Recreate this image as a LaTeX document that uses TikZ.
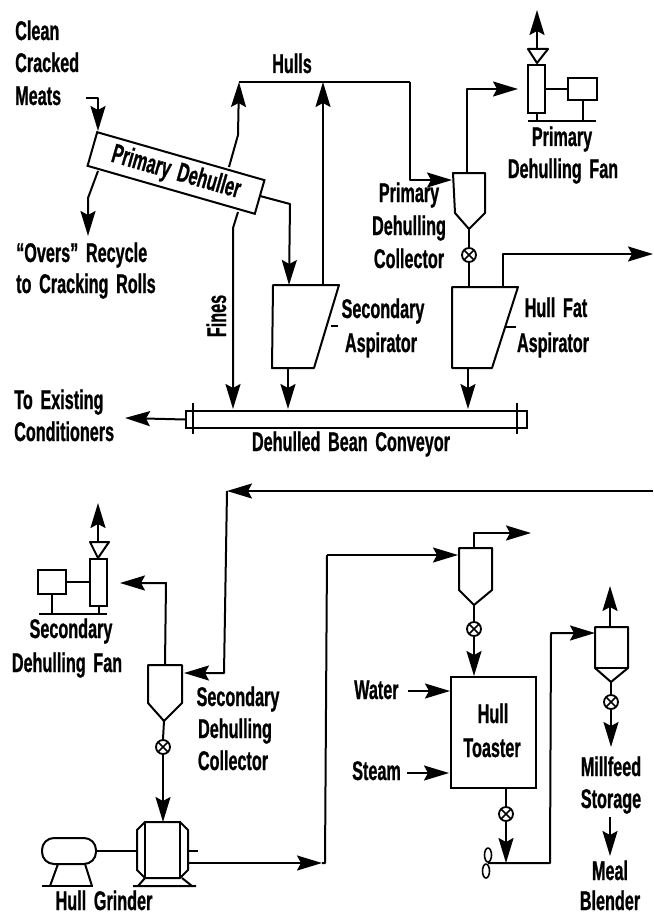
\documentclass[tikz,border=0pt]{standalone}
\usepackage{fontspec}
\setmainfont{Liberation Sans}[FakeStretch=0.6,WordSpace=1.7,BoldFeatures={FakeBold=0.8}]
\usetikzlibrary{arrows.meta,shapes.geometric}
\tikzset{
  lbl/.style={inner sep=0pt,anchor=base,font=\fontsize{27}{27}\selectfont\bfseries},
  lbll/.style={lbl,anchor=base west},
  eq/.style={draw=black,line width=2pt,line join=round},
  pipe/.style={draw=black,line width=2pt,line join=round},
  flow/.style={pipe,-{Stealth[length=25pt,width=15pt,inset=4pt]}},
  valve/.style={circle,draw=black,line width=1.8pt,minimum size=14pt,inner sep=0pt,
    path picture={\draw[line width=1.5pt] (path picture bounding box.north west)--(path picture bounding box.south east)
      (path picture bounding box.north east)--(path picture bounding box.south west);}},
  boxn/.style={draw=black,line width=2pt,inner sep=0pt,rectangle}
}
\begin{document}
\begin{tikzpicture}[x=1pt,y=-1pt]
\useasboundingbox (0,0) rectangle (653,915);
% ---- labels
\node[lbll] (t1) at (15,40) {Clean};
\node[lbll] (t2) at (15,72) {Cracked};
\node[lbll] (t3) at (15,105) {Meats};
\node[lbl] (hulls) at (292,73) {Hulls};
\node[lbll] (o1) at (16,262) {``Overs'' Recycle};
\node[lbll] (o2) at (16,293) {to Cracking Rolls};
\node[lbl,rotate=90] (fines) at (226,316) {Fines};
\node[lbll] (te1) at (14,409) {To Existing};
\node[lbll] (te2) at (14,441) {Conditioners};
\node[lbl] (dbc) at (351,451) {Dehulled Bean Conveyor};
\node[lbl] (sa1) at (383,318) {Secondary};
\node[lbl] (sa2) at (381,352) {Aspirator};
\node[lbl] (hf1) at (556,317) {Hull Fat};
\node[lbl] (hf2) at (553,352) {Aspirator};
\node[lbl] (pc1) at (409,202) {Primary};
\node[lbl] (pc2) at (409,235) {Dehulling};
\node[lbl] (pc3) at (409,268) {Collector};
\node[lbl] (pf1) at (562,146) {Primary};
\node[lbl] (pf2) at (563,178) {Dehulling Fan};
\node[lbl] (sf1) at (71,638) {Secondary};
\node[lbl] (sf2) at (67,672) {Dehulling Fan};
\node[lbl] (sc1) at (238,706) {Secondary};
\node[lbl] (sc2) at (235,738) {Dehulling};
\node[lbl] (sc3) at (233,770) {Collector};
\node[lbl] (hg) at (104,910) {Hull Grinder};
\node[lbl] (ht1) at (493,723) {Hull};
\node[lbl] (ht2) at (492,757) {Toaster};
\node[lbll] (wa) at (354,699) {Water};
\node[lbll] (st) at (352,780) {Steam};
\node[lbl] (mf1) at (611,776) {Millfeed};
\node[lbl] (mf2) at (611,808) {Storage};
\node[lbl] (mb1) at (610,880) {Meal};
\node[lbl] (mb2) at (610,910) {Blender};
% ---- primary dehuller
\node[boxn,rotate=-16,minimum width=174pt,minimum height=35pt,font=\fontsize{27}{27}\selectfont\bfseries] (deh) at (176,173) {Primary Dehuller};
% ---- aspirators
\draw[eq] (273,285) -- (339,285) -- (314,368) -- (272,368) -- cycle;
\draw[eq] (452,287) -- (518,287) -- (492,368) -- (452,368) -- cycle;
\coordinate (sat) at (331,326); \coordinate (sate) at (338,326);
\coordinate (hat) at (505,327); \coordinate (hate) at (516,327);
\draw[eq,line width=1.4pt] (sat) -- (sate) (hat) -- (hate);
% ---- conveyor
\node[boxn,minimum width=341pt,minimum height=17pt,anchor=north west] (conv) at (185,410) {};
\coordinate (ctl) at (193,403); \coordinate (cbl) at (193,434);
\coordinate (ctr) at (517,403); \coordinate (cbr) at (517,434);
\draw[eq,line width=1.4pt] (ctl) -- (cbl) (ctr) -- (cbr);
% ---- cyclones
\draw[eq] (453,173) -- (485,173) -- (485,213) -- (469,229) -- (455,213) -- cycle;
\draw[eq] (148,665) -- (182,665) -- (182,703) -- (164,721) -- (148,703) -- cycle;
\draw[eq] (459,548) -- (492,548) -- (492,590) -- (474,605) -- (459,590) -- cycle;
\draw[eq] (595,627) -- (628,627) -- (628,668) -- (611,682) -- (595,668) -- cycle;
\draw[eq] (595,668) -- (628,668);
% ---- valves
\node[valve] (v1) at (469,255) {};
\node[valve] (v2) at (163,747) {};
\node[valve] (v3) at (474,629) {};
\node[valve] (v4) at (506,814) {};
\node[valve] (v5) at (611,702) {};
% ---- primary fan
\node[boxn,minimum width=17pt,minimum height=48pt] (pfan) at (536.5,89) {};
\node[boxn,minimum width=29pt,minimum height=22pt] (pmot) at (582.5,89) {};
\draw[eq] (528,49) -- (548,49) -- (537,63) -- cycle;
\coordinate (pb1) at (528,121); \coordinate (pb2) at (596,121);
\draw[eq] (pb1) -- (pb2);
\draw[pipe] (pfan.east) -- (pmot.west);
\draw[pipe] (pfan.south) -- (pfan.south |- pb1);
\draw[pipe] (pmot.south) -- (pmot.south |- pb1);
\coordinate (ptr) at (537,49);
\coordinate (ptop) at (537,10);
\draw[flow] (ptr) -- (ptop);
% ---- secondary fan
\node[boxn,minimum width=17pt,minimum height=47pt] (sfan) at (98.5,582) {};
\node[boxn,minimum width=28pt,minimum height=24pt] (smot) at (52,582) {};
\draw[eq] (90,542) -- (109,542) -- (98,558) -- cycle;
\coordinate (sb1) at (39,614); \coordinate (sb2) at (107,614);
\draw[eq] (sb1) -- (sb2);
\draw[pipe] (sfan.west) -- (smot.east);
\draw[pipe] (sfan.south) -- (sfan.south |- sb1);
\draw[pipe] (smot.south) -- (smot.south |- sb1);
\coordinate (str) at (98,542);
\coordinate (stop) at (98,503);
\draw[flow] (str) -- (stop);
% ---- hull toaster
\node[boxn,minimum width=85pt,minimum height=111pt,anchor=north west] (toast) at (450,676) {};
% ---- hull grinder
\node[draw=black,line width=2pt,rounded corners=12pt,minimum width=54pt,minimum height=26pt,inner sep=0pt] (motor) at (69,851) {};
\draw[eq] (50,886) -- (58,864) (92,886) -- (85,864);
\draw[eq] (42,886) -- (93,886);
\draw[eq] (145,822) -- (180,822) -- (188,830) -- (188,870) -- (180,878) -- (145,878) -- (137,870) -- (137,830) -- cycle;
\draw[eq] (145,822) -- (145,878) (180,822) -- (180,878);
\draw[eq] (133,886) -- (196,886) (138,886) -- (145,878) (192,886) -- (182,878);
\coordinate (shl) at (137,851); \coordinate (shr) at (188,851); \coordinate (shre) at (198,851);
\draw[pipe] (motor.east) -- (shl);
\draw[pipe] (shr) -- (shre);
% ---- blower
\draw[eq,line width=1.6pt] (488,855) ellipse (3.5pt and 7pt);
\draw[eq,line width=1.6pt] (486,871) ellipse (3.5pt and 7pt);
% ---- connectors
\coordinate (cm) at (86,98); \coordinate (cmb) at (98,98); \coordinate (dtl) at (98,131);
\draw[flow] (cm) -- (cmb) -- (dtl);
\coordinate (ov0) at (98,171); \coordinate (ov1) at (88,198); \coordinate (ov2) at (88,236);
\draw[flow] (ov0) -- (ov1) -- (ov2);
\coordinate (h0) at (229,167); \coordinate (h1) at (238,135); \coordinate (hc) at (239,82);
\draw[flow] (h0) -- (h1) -- (hc);
\coordinate (hr) at (410,82); \coordinate (hrb) at (410,180); \coordinate (pci) at (452,180);
\draw[pipe] (hc) -- (hr);
\draw[flow] (hr) -- (hrb) -- (pci);
\coordinate (saout) at (323,285); \coordinate (saj) at (323,82);
\draw[flow] (saout) -- (saj);
\coordinate (d0) at (260,196); \coordinate (d1) at (290,204); \coordinate (sain) at (289,285);
\draw[flow] (d0) -- (d1) -- (sain);
\coordinate (f0) at (238,212); \coordinate (f1) at (233,228); \coordinate (f2) at (233,409);
\draw[flow] (f0) -- (f1) -- (f2);
\coordinate (sab) at (288,368); \coordinate (cv1) at (288,409);
\draw[flow] (sab) -- (cv1);
\coordinate (hfb) at (468,368); \coordinate (cv2) at (468,409);
\draw[flow] (hfb) -- (cv2);
\coordinate (toex) at (125,418);
\draw[flow] (conv.west) -- (toex);
% primary collector
\coordinate (pct) at (467,173); \coordinate (pcc) at (467,89); \coordinate (pfi) at (518,89);
\draw[flow] (pct) -- (pcc) -- (pfi);
\coordinate (pca) at (469,229); \coordinate (hft) at (469,287);
\draw[pipe] (pca) -- (v1.north) (v1.south) -- (hft);
\coordinate (hfo) at (503,287); \coordinate (hfc) at (503,254); \coordinate (hfe) at (653,254);
\draw[flow] (hfo) -- (hfc) -- (hfe);
% secondary loop
\coordinate (re) at (653,491); \coordinate (rc) at (227,491); \coordinate (rb) at (224,673); \coordinate (sci) at (184,673);
\draw[flow] (re) -- (rc);
\draw[flow] (rc) -- (rb) -- (sci);
\coordinate (sct) at (165,665); \coordinate (scc) at (166,583); \coordinate (sfi) at (120,583);
\draw[flow] (sct) -- (scc) -- (sfi);
\coordinate (sca) at (164,721); \coordinate (gi) at (163,822);
\draw[pipe] (sca) -- (v2.north);
\draw[flow] (v2.south) -- (gi);
% grinder to toaster cyclone
\coordinate (g0) at (188,863); \coordinate (g1) at (322,863); \coordinate (g2) at (325,863); \coordinate (g3) at (327,555); \coordinate (tci) at (458,555);
\draw[flow] (g0) -- (g1);
\draw[pipe] (g1) -- (g2) -- (g3);
\draw[flow] (g3) -- (tci);
\coordinate (tct) at (474,548); \coordinate (tcc) at (474,533); \coordinate (tce) at (531,533);
\draw[flow] (tct) -- (tcc) -- (tce);
\coordinate (tca) at (474,605);
\draw[pipe] (tca) -- (v3.north);
\coordinate (ti) at (474,676);
\draw[flow] (v3.south) -- (ti);
\coordinate (wa0) at (408,691); \coordinate (wa1) at (450,691);
\draw[flow] (wa0) -- (wa1);
\coordinate (st0) at (407,773); \coordinate (st1) at (449,773);
\draw[flow] (st0) -- (st1);
\coordinate (tb) at (506,787); \coordinate (bl) at (506,863);
\draw[pipe] (tb) -- (v4.north);
\draw[flow] (v4.south) -- (bl);
\coordinate (bl0) at (488,863); \coordinate (bl1) at (550,863); \coordinate (bl2) at (551,633); \coordinate (mci) at (595,633);
\draw[flow] (bl0) -- (bl1) -- (bl2) -- (mci);
\coordinate (mct) at (610,627); \coordinate (mcu) at (610,586);
\draw[flow] (mct) -- (mcu);
\coordinate (mca) at (611,682); \coordinate (ms) at (611,747);
\draw[pipe] (mca) -- (v5.north);
\draw[flow] (v5.south) -- (ms);
\coordinate (mb0) at (610,817); \coordinate (mb1) at (610,856);
\draw[flow] (mb0) -- (mb1);
\end{tikzpicture}
\end{document}
